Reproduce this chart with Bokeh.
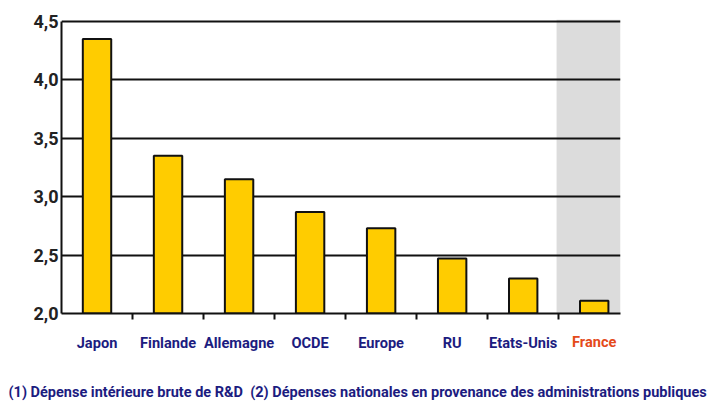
from bokeh.plotting import figure
from bokeh.models import Range1d, FixedTicker, CustomJSTickFormatter, BoxAnnotation, Title, LinearAxis
from bokeh.embed import file_html
from bokeh.resources import INLINE

categories = ["Japon", "Finlande", "Allemagne", "OCDE", "Europe", "RU", "Etats-Unis", "France"]
values = [4.35, 3.35, 3.15, 2.87, 2.73, 2.47, 2.30, 2.11]
y_ticks = [2.0, 2.5, 3.0, 3.5, 4.0, 4.5]
footnote = "(1) Dépense intérieure brute de R&D\u00a0\u00a0(2) Dépenses nationales en provenance des administrations publiques"

xs = list(range(len(categories)))
NAVY = "#1c1c80"
RED = "#e44a1a"
LABEL_SIZE = "14.6px"

p = figure(width=712, height=401, output_backend="svg", toolbar_location=None,
           x_range=Range1d(-0.5, 7.37), y_range=Range1d(2.0, 4.517),
           min_border_left=61, min_border_right=92, min_border_top=19, min_border_bottom=87)
p.outline_line_color = None

shade = BoxAnnotation(left=6.47, fill_color="#dcdcdc", fill_alpha=1.0, line_color=None, level="image")
p.add_layout(shade)

p.xgrid.visible = False
p.ygrid.ticker = FixedTicker(ticks=y_ticks)
p.ygrid.grid_line_color = "#111111"
p.ygrid.grid_line_width = 2

p.vbar(x=xs, top=values, bottom=2.0, width=0.4, fill_color="#ffcc00",
       line_color="#111111", line_width=2)

# y axis
p.yaxis.ticker = FixedTicker(ticks=y_ticks)
p.yaxis.formatter = CustomJSTickFormatter(code="return tick.toFixed(1).replace('.', ',');")
p.yaxis.axis_line_width = 2
p.yaxis.axis_line_color = "#111111"
p.yaxis.major_tick_out = 0
p.yaxis.major_tick_in = 0
p.yaxis.minor_tick_line_color = None
p.yaxis.major_label_standoff = 3
p.yaxis.major_label_text_font = "Roboto"
p.yaxis.major_label_text_font_size = "18px"
p.yaxis.major_label_text_font_style = "bold"
p.yaxis.major_label_text_color = "#222222"
p.yaxis.bounds = (2.0, 4.5)

# x axis: labels at category centres, boundary ticks as minor ticks
xa = p.xaxis[0]
xa.ticker = FixedTicker(ticks=xs[:-1], minor_ticks=[i + 0.5 for i in xs[:-1]])
xa.major_label_overrides = {i: c for i, c in zip(xs[:-1], categories[:-1])}
xa.axis_line_width = 2
xa.axis_line_color = "#111111"
xa.major_tick_line_color = None
xa.major_tick_out = 0
xa.major_tick_in = 0
xa.minor_tick_out = 6
xa.minor_tick_in = 0
xa.minor_tick_line_width = 2
xa.minor_tick_line_color = "#111111"
xa.major_label_standoff = 14
xa.major_label_text_font = "Roboto"
xa.major_label_text_font_style = "bold"
xa.major_label_text_font_size = LABEL_SIZE
xa.major_label_text_color = NAVY

# second axis carrying only the highlighted (France) label in red, pulled up beside the others;
# its blank axis label only reserves room above the footnote
xb = LinearAxis(ticker=FixedTicker(ticks=[xs[-1]], minor_ticks=[]),
                major_label_overrides={xs[-1]: categories[-1]},
                axis_line_color=None, major_tick_line_color=None, minor_tick_line_color=None,
                major_tick_out=0, major_tick_in=0, minor_tick_out=0, minor_tick_in=0,
                major_label_standoff=-22, major_label_text_font="Roboto",
                major_label_text_font_style="bold", major_label_text_font_size=LABEL_SIZE,
                major_label_text_color=RED,
                axis_label="\u00a0", axis_label_standoff=14, axis_label_text_font_size="10px")
p.add_layout(xb, "below")

p.add_layout(Title(text=footnote, align="left", text_font="Roboto", text_font_style="bold",
                   text_font_size="14.5px", text_color=NAVY, offset=-53, standoff=1), "below")

open("out.html", "w").write(file_html(p, INLINE))
